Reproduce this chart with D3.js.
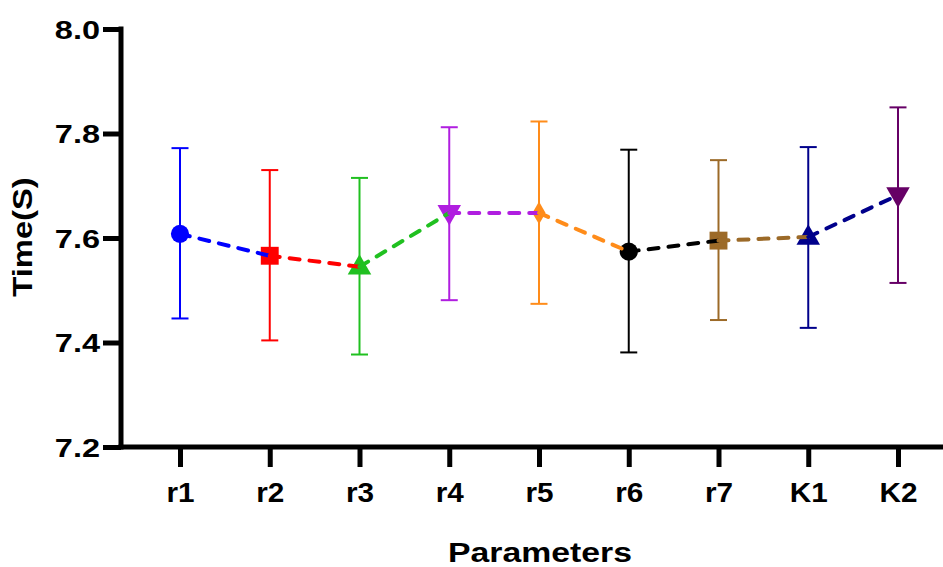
<!DOCTYPE html>
<html>
<head>
<meta charset="utf-8">
<script src="https://cdn.jsdelivr.net/npm/d3@7"></script>
<style>
  body { margin: 0; background: #fff; }
  svg text { font-family: "Liberation Sans", Arial, sans-serif; font-weight: bold; fill: #000; }
</style>
</head>
<body>
<div id="chart"></div>
<script>
// Values
var categories = ["r1", "r2", "r3", "r4", "r5", "r6", "r7", "K1", "K2"];
var means  = [7.608, 7.566, 7.545, 7.648, 7.648, 7.574, 7.595, 7.602, 7.682];
var uppers = [7.772, 7.730, 7.715, 7.812, 7.823, 7.769, 7.749, 7.774, 7.850];
var lowers = [7.446, 7.404, 7.377, 7.481, 7.474, 7.381, 7.443, 7.428, 7.514];
var colors = ["#0000ff", "#ff0000", "#20c020", "#b01ee0", "#ff8c1a", "#000000", "#9c6a28", "#00008b", "#660066"];
var shapes = ["circle", "square", "up", "down", "diamond", "circle", "square", "up", "down"];
var yTicks = [7.2, 7.4, 7.6, 7.8, 8.0];

var width = 943, height = 567;

var svg = d3.select("#chart").append("svg")
    .attr("width", width)
    .attr("height", height);

var x = d3.scalePoint()
    .domain(categories)
    .range([180, 898]);

var y = d3.scaleLinear()
    .domain([7.2, 8.0])
    .range([447, 29]);

var axisX = 121;

// marker paths
function markerPath(shape) {
    if (shape == "circle") return d3.symbol(d3.symbolCircle, 260)();
    if (shape == "square") return d3.symbol(d3.symbolSquare, 320)();
    if (shape == "diamond") return d3.symbol(d3.symbolDiamond, 150)();
    return d3.symbol(d3.symbolTriangle, 240)();
}

var pts = categories.map(function(c, i){
    return {cat: c, mean: means[i], hi: uppers[i], lo: lowers[i], color: colors[i], shape: shapes[i]};
});

// error bars
var eb = svg.append("g").attr("class", "errorbars")
    .selectAll("g").data(pts).enter().append("g")
    .attr("stroke", function(d){ return d.color; })
    .attr("stroke-width", 2);

eb.append("line")
    .attr("x1", function(d){ return x(d.cat); })
    .attr("x2", function(d){ return x(d.cat); })
    .attr("y1", function(d){ return y(d.hi); })
    .attr("y2", function(d){ return y(d.lo); });
eb.append("line")
    .attr("x1", function(d){ return x(d.cat) - 8.5; })
    .attr("x2", function(d){ return x(d.cat) + 8.5; })
    .attr("y1", function(d){ return y(d.hi); })
    .attr("y2", function(d){ return y(d.hi); });
eb.append("line")
    .attr("x1", function(d){ return x(d.cat) - 8.5; })
    .attr("x2", function(d){ return x(d.cat) + 8.5; })
    .attr("y1", function(d){ return y(d.lo); })
    .attr("y2", function(d){ return y(d.lo); });

// markers
svg.append("g").attr("class", "markers")
    .selectAll("path").data(pts).enter().append("path")
    .attr("d", function(d){ return markerPath(d.shape); })
    .attr("fill", function(d){ return d.color; })
    .attr("transform", function(d){
        if (d.shape == "down") return "translate(" + x(d.cat) + "," + (y(d.mean) - 1) + ") rotate(180)";
        if (d.shape == "up") return "translate(" + x(d.cat) + "," + (y(d.mean) + 1) + ")";
        return "translate(" + x(d.cat) + "," + y(d.mean) + ")";
    });

// dashed connecting segments, coloured by their starting point
var segs = d3.pairs(pts);
svg.append("g").attr("class", "links")
    .selectAll("line").data(segs).enter().append("line")
    .attr("x1", function(d){ return x(d[0].cat); })
    .attr("y1", function(d){ return y(d[0].mean); })
    .attr("x2", function(d){ return x(d[1].cat); })
    .attr("y2", function(d){ return y(d[1].mean); })
    .attr("stroke", function(d){ return d[0].color; })
    .attr("stroke-width", 4)
    .attr("stroke-linecap", "round")
    .attr("stroke-dasharray", "10,10");

// y axis
var gy = svg.append("g")
    .attr("transform", "translate(" + axisX + ",0)")
    .call(d3.axisLeft(y).tickValues(yTicks).tickFormat(d3.format(".1f")).tickSize(18).tickSizeOuter(0));
gy.select(".domain").remove();
gy.append("line")
    .attr("x1", 0).attr("x2", 0)
    .attr("y1", y(8.0) - 2.5).attr("y2", y(7.2) + 2.5)
    .attr("stroke", "#000").attr("stroke-width", 5);
gy.selectAll(".tick line").attr("stroke", "#000").attr("stroke-width", 5);
gy.selectAll(".tick text")
    .attr("x", -21 / 1.25)
    .attr("dy", "0.36em")
    .attr("transform", "scale(1.25,1)")
    .style("font-size", "26px");

// x axis
var gx = svg.append("g")
    .attr("transform", "translate(0," + y(7.2) + ")")
    .call(d3.axisBottom(x).tickSize(20).tickSizeOuter(0));
gx.select(".domain").remove();
gx.append("line")
    .attr("x1", axisX - 2.5).attr("x2", width + 10)
    .attr("y1", 0).attr("y2", 0)
    .attr("stroke", "#000").attr("stroke-width", 5);
gx.selectAll(".tick line").attr("stroke", "#000").attr("stroke-width", 5);
gx.selectAll(".tick text")
    .attr("y", 55)
    .attr("dy", 0)
    .attr("transform", "scale(1.1,1)")
    .style("font-size", "27px");

// axis titles
svg.append("text")
    .attr("transform", "translate(" + 540 + ",562) scale(1.25,1)")
    .attr("text-anchor", "middle")
    .style("font-size", "27px")
    .text("Parameters");

svg.append("text")
    .attr("transform", "translate(32,237) rotate(-90) scale(1.17,1)")
    .attr("text-anchor", "middle")
    .style("font-size", "28px")
    .text("Time(S)");
</script>
</body>
</html>
